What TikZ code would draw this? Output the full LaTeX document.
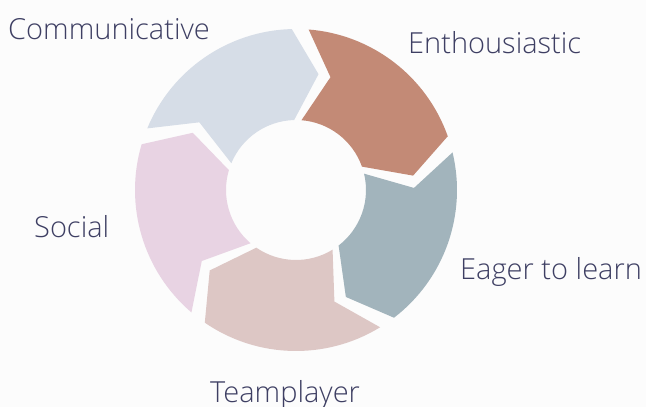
\documentclass[tikz,border=0pt]{standalone}
\usepackage{fontspec}
\setmainfont{Open Sans}[UprightFont=* Light]
\tikzset{>=stealth}
\definecolor{ink}{HTML}{3E3F63}
\definecolor{paper}{HTML}{FCFCFC}
\definecolor{commcol}{HTML}{D6DDE7}
\definecolor{enthcol}{HTML}{C38A76}
\definecolor{eagercol}{HTML}{A2B4BC}
\definecolor{teamcol}{HTML}{DDC7C5}
\definecolor{socialcol}{HTML}{E8D3E3}
\tikzset{
    trait/.style={inner sep=0pt, anchor=base west, text=ink,
        font=\fontsize{29}{34}\selectfont},
}

\begin{document}
\begin{tikzpicture}[x=1pt, y=1pt]
    \fill[paper] (-296,-217) rectangle (350,190);
    \useasboundingbox (-296,-217) rectangle (350,190);
    % ring of five arrows, clockwise
    \foreach \b/\c in {160.5/commcol, 88.5/enthcol, 16.5/eagercol, -55.5/teamcol, -127.5/socialcol}{
        \pgfmathsetmacro\t{\b-3}
        \pgfmathsetmacro\h{\b-69}
        \fill[\c] (\t:161) arc[start angle=\t, end angle=\h, radius=161]
            -- (\h-12.5:118) -- (\h:70)
            arc[start angle=\h, end angle=\t, radius=70]
            -- (\t-12.5:118) -- cycle;
    }
    \node[trait] (comm) at (-288,150) {Communicative};
    \node[trait] (enth) at (112,136.7) {Enthousiastic};
    \node[trait] (eager) at (164,-89.3) {Eager to learn};
    \node[trait] (social) at (-262,-48) {Social};
    \node[trait] (team) at (-86,-212.7) {Teamplayer};
\end{tikzpicture}
\end{document}
